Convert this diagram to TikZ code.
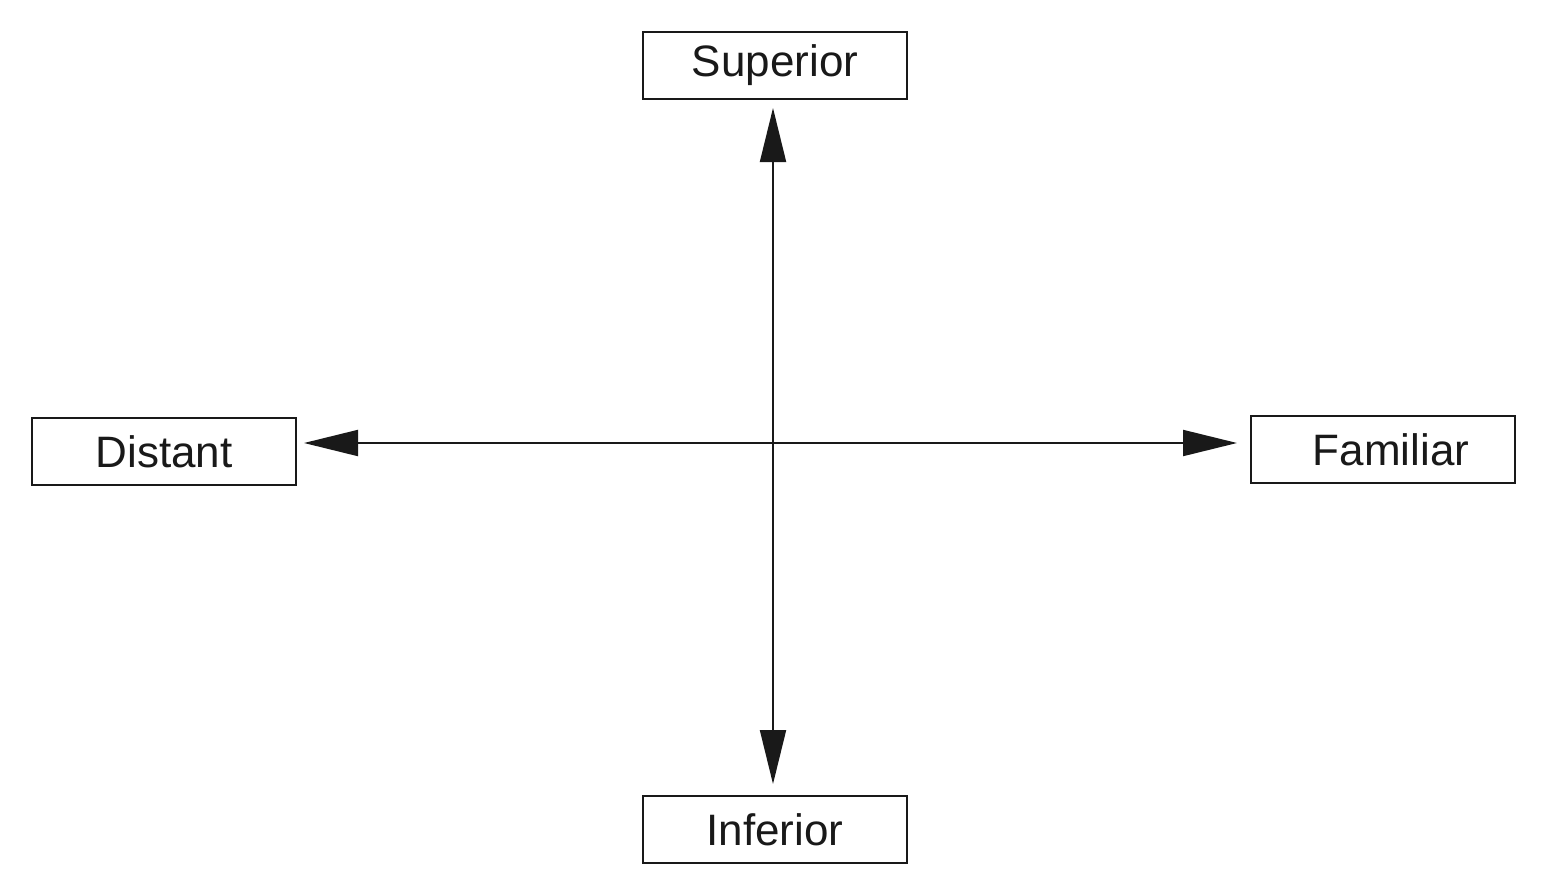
\documentclass[tikz,border=0pt]{standalone}
\usepackage{fontspec}
\setmainfont{Liberation Sans}
\usetikzlibrary{arrows.meta}
\begin{document}
\begin{tikzpicture}[x=1pt,y=1pt,
  labelbox/.style={draw=black!90,line width=1pt,minimum width=132pt,minimum height=33.5pt,inner sep=0pt,font=\fontsize{22}{26}\selectfont,text=black!90},
  axis/.style={line width=1pt,draw=black!90,{Triangle[length=27pt,width=13pt]}-{Triangle[length=27pt,width=13pt]}}]
\useasboundingbox (0,0) rectangle (773,-447);
\node[labelbox] (sup) at (387.5,-32.75) {Superior};
\node[labelbox] (inf) at (387.5,-414.75) {Inferior};
\node[labelbox] (dist) at (82,-225.75) {Distant};
\node[labelbox] (fam) at (691.5,-224.75) {\hspace*{8pt}Familiar};
\coordinate (c) at (386.5,-221.5);
\draw[axis,shorten <=4pt,shorten >=5.5pt] (c |- sup.south) -- (c |- inf.north);
\draw[axis,shorten <=3.5pt,shorten >=6.5pt] (dist.east |- c) -- (fam.west |- c);
\end{tikzpicture}
\end{document}
